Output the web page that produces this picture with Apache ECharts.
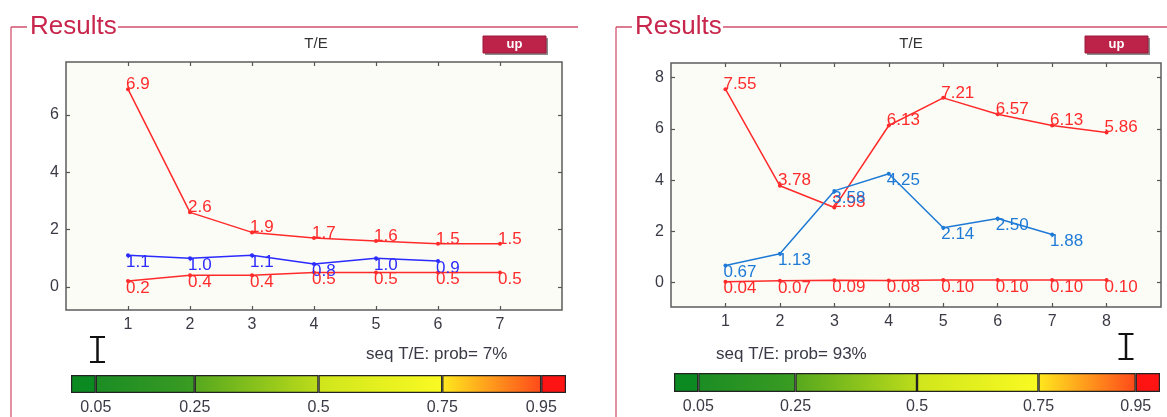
<!DOCTYPE html>
<html>
<head>
<meta charset="utf-8">
<script src="https://cdn.jsdelivr.net/npm/echarts@6/dist/echarts.min.js"></script>
<style>
html,body{margin:0;padding:0;background:#ffffff;}
#chart{width:1167px;height:417px;}
</style>
</head>
<body>
<div id="chart"></div>
<script>
// ---- data ----
const leftX = [1, 2, 3, 4, 5, 6, 7];
const leftRedHigh = [6.9, 2.6, 1.9, 1.7, 1.6, 1.5, 1.5];
const leftBlue = [1.1, 1.0, 1.1, 0.8, 1.0, 0.9];
const leftRedLow = [0.2, 0.4, 0.4, 0.5, 0.5, 0.5, 0.5];

const rightX = [1, 2, 3, 4, 5, 6, 7, 8];
const rightRedHigh = [7.55, 3.78, 2.93, 6.13, 7.21, 6.57, 6.13, 5.86];
const rightBlue = [0.67, 1.13, 3.58, 4.25, 2.14, 2.50, 1.88];
const rightRedLow = [0.04, 0.07, 0.09, 0.08, 0.10, 0.10, 0.10, 0.10];

const leftYTicks = [0, 2, 4, 6];
const rightYTicks = [0, 2, 4, 6, 8];

const colorbarBreaks = [0, 0.05, 0.25, 0.5, 0.75, 0.95, 1];
const colorbarTicks = [0.05, 0.25, 0.5, 0.75, 0.95];

const panelTitle = 'Results';
const plotTitle = 'T/E';
const buttonText = 'up';
const leftProbText = 'seq T/E: prob= 7%';
const rightProbText = 'seq T/E: prob= 93%';

// ---- styles ----
const RED = '#ff2b2b';
const BLUE_L = '#2b2bff';
const BLUE_R = '#1f7ad6';
const FRAME = '#d0506c';
const TXT = '#3a3a46';
const FONT = '"Liberation Sans", Arial, sans-serif';
const cbColors = [
  '#0b8a22',
  ['#1b8c24', '#3a9c22'],
  ['#56a81e', '#bcdc1a'],
  ['#cfe61c', '#fafa22'],
  ['#ffe81e', '#ff4a1a'],
  '#ff1414'
];

const chart = echarts.init(document.getElementById('chart'), null, {renderer: 'canvas'});

function pairs(xs, ys) { return ys.map((v, i) => [xs[i], v]); }

function lineSeries(xs, ys, color, xi, yi, dec, offY) {
  return {
    type: 'line',
    xAxisIndex: xi, yAxisIndex: yi,
    data: pairs(xs, ys),
    symbol: 'circle', symbolSize: 4,
    lineStyle: {color: color, width: 1.5},
    itemStyle: {color: color},
    label: {
      show: true, position: 'right', distance: 0, offset: [-4, offY],
      color: color, fontSize: 17, fontFamily: FONT,
      formatter: p => p.value[1].toFixed(dec)
    },
    emphasis: {disabled: true},
    z: 3
  };
}

const tickStyle = {color: '#555', width: 1.2};

function plotAxesX(grid, xs, max) {
  return [
    {type: 'value', gridIndex: grid, min: 0, max: max, position: 'bottom',
      axisLine: {show: false, onZero: false}, splitLine: {show: false},
      axisTick: {show: true, inside: true, length: 4, customValues: xs, lineStyle: tickStyle},
      axisLabel: {show: true, customValues: xs, color: TXT, fontSize: 16, fontFamily: FONT, margin: 7}},
    {type: 'value', gridIndex: grid, min: 0, max: max, position: 'top',
      axisLine: {show: false, onZero: false}, splitLine: {show: false},
      axisTick: {show: true, inside: true, length: 4, customValues: xs, lineStyle: tickStyle},
      axisLabel: {show: false}}
  ];
}
function plotAxesY(grid, ticks, min, max) {
  return [
    {type: 'value', gridIndex: grid, min: min, max: max, position: 'left',
      axisLine: {show: false, onZero: false}, splitLine: {show: false},
      axisTick: {show: true, inside: true, length: 4, customValues: ticks, lineStyle: tickStyle},
      axisLabel: {show: true, customValues: ticks, color: TXT, fontSize: 16, fontFamily: FONT, margin: 7}},
    {type: 'value', gridIndex: grid, min: min, max: max, position: 'right',
      axisLine: {show: false, onZero: false}, splitLine: {show: false},
      axisTick: {show: true, inside: true, length: 4, customValues: ticks, lineStyle: tickStyle},
      axisLabel: {show: false}}
  ];
}

function cbSeries(xi, yi) {
  const out = [];
  for (let i = 0; i < colorbarBreaks.length - 1; i++) {
    const w = +(colorbarBreaks[i + 1] - colorbarBreaks[i]).toFixed(4);
    const c = cbColors[i];
    const color = Array.isArray(c) ? new echarts.graphic.LinearGradient(0, 0, 1, 0, [
      {offset: 0, color: c[0]}, {offset: 1, color: c[1]}]) : c;
    out.push({
      type: 'bar', xAxisIndex: xi, yAxisIndex: yi, stack: 'cb' + xi,
      data: [w], barWidth: '100%',
      itemStyle: {color: color, borderColor: '#222', borderWidth: 1.2},
      emphasis: {disabled: true}, silent: true
    });
  }
  return out;
}
function cbAxes(grid) {
  return {
    x: {type: 'value', gridIndex: grid, min: 0, max: 1,
      axisLine: {show: false, onZero: false}, axisTick: {show: false}, splitLine: {show: false},
      axisLabel: {show: true, customValues: colorbarTicks, color: TXT, fontSize: 16, fontFamily: FONT, margin: 7,
        formatter: v => String(+v.toFixed(2))}},
    y: {type: 'category', gridIndex: grid, data: ['cb'], show: false, boundaryGap: true}
  };
}

function panelGraphics(vx, resultsX, lineEnd, titleCx, btnX, ibeamCx, ibeamTop, probX, probText) {
  const g = [];
  g.push({type: 'line', shape: {x1: vx, y1: 27, x2: vx, y2: 417}, style: {stroke: '#e291a2', lineWidth: 2}});
  g.push({type: 'line', shape: {x1: vx, y1: 27, x2: resultsX - 3, y2: 27}, style: {stroke: FRAME, lineWidth: 1.5}});
  g.push({type: 'text', x: resultsX, y: 27, style: {text: panelTitle, fill: '#c8264c', font: '26px ' + FONT, textVerticalAlign: 'middle'}});
  g.push({type: 'line', shape: {x1: resultsX + 88, y1: 27, x2: lineEnd, y2: 27}, style: {stroke: FRAME, lineWidth: 1.5}});
  g.push({type: 'text', x: titleCx, y: 44, style: {text: plotTitle, fill: '#333', font: '15px ' + FONT, textAlign: 'center', textVerticalAlign: 'middle'}});
  g.push({type: 'rect', shape: {x: btnX + 2, y: 38, width: 63, height: 17}, style: {fill: '#8c8c8c'}});
  g.push({type: 'rect', shape: {x: btnX, y: 36, width: 63, height: 17}, style: {fill: '#bd2249', stroke: '#9a1a3a', lineWidth: 1}});
  g.push({type: 'text', x: btnX + 31.5, y: 44.5, style: {text: buttonText, fill: '#ffffff', font: 'bold 13px ' + FONT, textAlign: 'center', textVerticalAlign: 'middle'}});
  g.push({type: 'line', shape: {x1: ibeamCx - 7.5, y1: ibeamTop, x2: ibeamCx + 7.5, y2: ibeamTop}, style: {stroke: '#111', lineWidth: 2}});
  g.push({type: 'line', shape: {x1: ibeamCx, y1: ibeamTop, x2: ibeamCx, y2: ibeamTop + 25}, style: {stroke: '#111', lineWidth: 2.5}});
  g.push({type: 'line', shape: {x1: ibeamCx - 7.5, y1: ibeamTop + 25, x2: ibeamCx + 7.5, y2: ibeamTop + 25}, style: {stroke: '#111', lineWidth: 2}});
  g.push({type: 'text', x: probX, y: 354, style: {text: probText, fill: TXT, font: '17px ' + FONT, textVerticalAlign: 'middle'}});
  return g;
}

const cbL = cbAxes(2), cbR = cbAxes(3);

const option = {
  animation: false,
  backgroundColor: '#ffffff',
  grid: [
    {left: 66, top: 62, width: 496, height: 248, show: true, backgroundColor: '#fcfcf7', borderColor: '#5c5c5c', borderWidth: 1.5},
    {left: 671, top: 63, width: 490, height: 244, show: true, backgroundColor: '#fcfcf7', borderColor: '#5c5c5c', borderWidth: 1.5},
    {left: 71, top: 375, width: 495, height: 18, show: false},
    {left: 674, top: 373, width: 486, height: 19, show: false}
  ],
  xAxis: [
    ...plotAxesX(0, leftX, 8),
    ...plotAxesX(1, rightX, 9),
    cbL.x, cbR.x
  ],
  yAxis: [
    ...plotAxesY(0, leftYTicks, -0.81, 7.85),
    ...plotAxesY(1, rightYTicks, -0.95, 8.57),
    cbL.y, cbR.y
  ],
  series: [
    lineSeries(leftX, leftRedHigh, RED, 0, 0, 1, -5),
    lineSeries(leftX, leftBlue, BLUE_L, 0, 0, 1, 7),
    lineSeries(leftX, leftRedLow, RED, 0, 0, 1, 7),
    lineSeries(rightX, rightRedHigh, RED, 2, 2, 2, -5),
    lineSeries(rightX, rightBlue, BLUE_R, 2, 2, 2, 7),
    lineSeries(rightX, rightRedLow, RED, 2, 2, 2, 7),
    ...cbSeries(4, 4),
    ...cbSeries(5, 5)
  ],
  graphic: [
    ...panelGraphics(11, 30, 578, 316, 483, 97.5, 337, 366, leftProbText),
    ...panelGraphics(616, 635, 1167, 911, 1085, 1126, 334, 716, rightProbText)
  ]
};
chart.setOption(option);
</script>
</body>
</html>
